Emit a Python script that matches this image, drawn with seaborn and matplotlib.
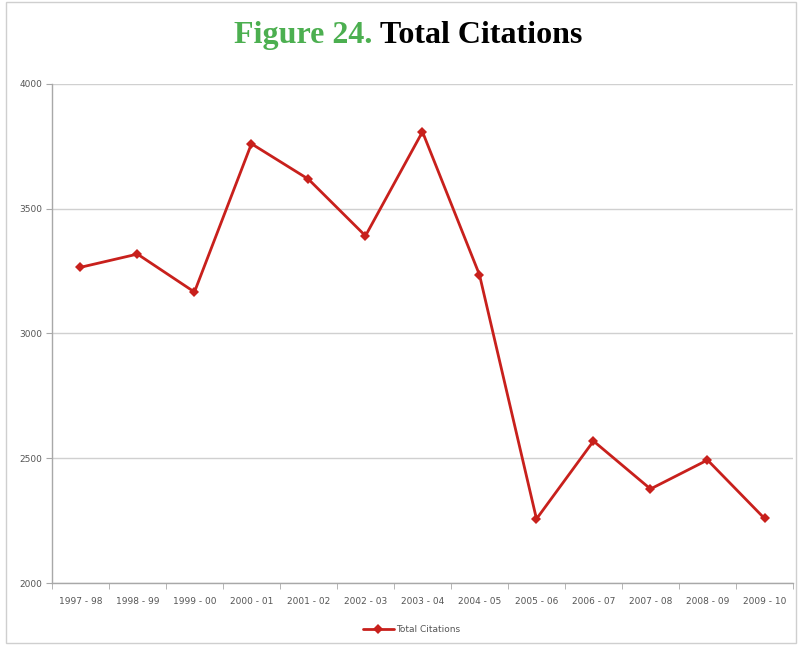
import matplotlib
matplotlib.use("Agg")
import matplotlib.pyplot as plt
import seaborn as sns
import pandas as pd
import numpy as np

# data
years = ["1997 - 98", "1998 - 99", "1999 - 00", "2000 - 01", "2001 - 02", "2002 - 03",
         "2003 - 04", "2004 - 05", "2005 - 06", "2006 - 07", "2007 - 08", "2008 - 09", "2009 - 10"]
citations = [3265, 3318, 3166, 3760, 3618, 3391, 3808, 3235, 2257, 2569, 2377, 2493, 2259]
y_ticks = [2000, 2500, 3000, 3500, 4000]

df = pd.DataFrame({"year": years, "Total Citations": citations})
df["pos"] = np.arange(len(years))

sns.set_style("white")
fig = plt.figure(figsize=(7.99, 6.45), dpi=100)
ax = fig.add_axes([0.065, 0.096, 0.9275, 0.774])

line_color = "#c8201c"
sns.lineplot(data=df, x="pos", y="Total Citations", ax=ax, color=line_color,
             linewidth=2, marker="D", markersize=5, markeredgewidth=0,
             label="Total Citations")

ax.set_xlim(-0.5, len(years) - 0.5)
ax.set_ylim(2000, 4000)
ax.set_yticks(y_ticks)
ax.set_yticklabels([str(v) for v in y_ticks])
ax.set_xticks(df["pos"])
ax.set_xticklabels(years)
ax.set_xticks(np.arange(-0.5, len(years)), minor=True)
ax.set_xlabel("")
ax.set_ylabel("")

ax.grid(axis="y", color="#d0d0d0", linewidth=1)
ax.set_axisbelow(True)
for side in ["top", "right"]:
    ax.spines[side].set_visible(False)
for side in ["left", "bottom"]:
    ax.spines[side].set_color("#a8a8a8")
    ax.spines[side].set_linewidth(1)

ax.tick_params(axis="x", which="major", length=0, pad=10, labelsize=6.5, labelcolor="#555555")
ax.tick_params(axis="x", which="minor", length=4, color="#a8a8a8", bottom=True)
ax.tick_params(axis="y", which="major", length=4, color="#a8a8a8", labelsize=6.5,
               labelcolor="#555555", pad=3, left=True)

leg = ax.legend(loc="upper center", bbox_to_anchor=(0.485, -0.068), frameon=False,
                fontsize=6.5, handlelength=3.5, handletextpad=0.2)
for t in leg.get_texts():
    t.set_color("#555555")

# title in two colours
fig.text(0.466, 0.945, "Figure 24.", color="#4caf50", fontsize=23, fontweight="bold",
         family="Liberation Serif", ha="right", va="center")
fig.text(0.476, 0.945, "Total Citations", color="black", fontsize=23, fontweight="bold",
         family="Liberation Serif", ha="left", va="center")

# thin frame round the image
fig.patches.append(plt.Rectangle((0.008, 0.003), 0.988, 0.994, transform=fig.transFigure,
                                 fill=False, edgecolor="#cfcfcf", linewidth=1))

fig.savefig("out.png", dpi=100)
